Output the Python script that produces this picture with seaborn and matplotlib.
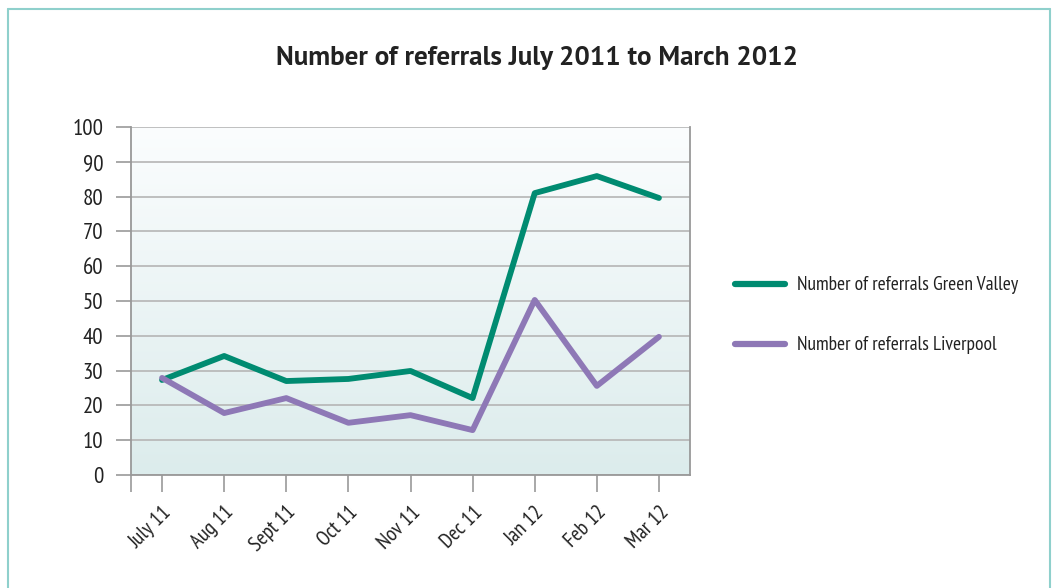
import numpy as np
import pandas as pd
import matplotlib
matplotlib.use("Agg")
import matplotlib.pyplot as plt
from matplotlib.lines import Line2D
from matplotlib.colors import LinearSegmentedColormap
import seaborn as sns

months = ["July 11", "Aug 11", "Sept 11", "Oct 11", "Nov 11", "Dec 11", "Jan 12", "Feb 12", "Mar 12"]
green_valley = [27.3, 34.2, 27.0, 27.6, 29.9, 22.1, 81.0, 85.9, 79.6]
liverpool = [27.9, 17.8, 22.1, 15.0, 17.2, 12.9, 50.3, 25.6, 39.7]
series_names = ["Number of referrals Green Valley", "Number of referrals Liverpool"]
yticks = [0, 10, 20, 30, 40, 50, 60, 70, 80, 90, 100]
title = "Number of referrals July 2011 to March 2012"

colors = ["#008b71", "#8e78b6"]

sns.set_style("white")
import matplotlib.font_manager as fm
avail = {f.name for f in fm.fontManager.ttflist}
COND = [f for f in ["PT Sans Narrow", "Roboto Condensed", "Asap Condensed", "Sofia Sans Condensed"] if f in avail][:1] + ["DejaVu Sans"]
TITLEF = [f for f in ["Myriad Pro", "PT Sans", "Open Sans"] if f in avail][:1] + ["DejaVu Sans"]
plt.rcParams["font.family"] = COND

df = pd.DataFrame({
    "month": months * 2,
    "idx": list(range(len(months))) * 2,
    "value": green_valley + liverpool,
    "series": [series_names[0]] * len(months) + [series_names[1]] * len(months),
})

W, H = 1058, 588
fig = plt.figure(figsize=(W / 100, H / 100), dpi=100)
ax = fig.add_axes([131 / W, 1 - 475 / H, (690 - 131) / W, (475 - 127) / H])

grad = np.linspace(0, 1, 256).reshape(-1, 1)
cmap = LinearSegmentedColormap.from_list("bg", ["#dcecec", "#fbfdfe"])
ax.imshow(grad, cmap=cmap, origin="lower", extent=[0, 1, 0, 1], transform=ax.transAxes,
          aspect="auto", zorder=0)

sns.lineplot(data=df, x="idx", y="value", hue="series", palette=colors, ax=ax,
             linewidth=4.2, legend=False, zorder=3)

ax.set_xlim(-0.5, len(months) - 0.5)
ax.set_ylim(0, 100)
ax.set_yticks(yticks)
ax.set_yticklabels([str(v) for v in yticks], fontsize=16.5, color="#222222")
ax.set_xticks(range(len(months)))
ax.set_xticklabels(months, rotation=45, ha="right", rotation_mode="anchor", fontsize=15, color="#222222")
ax.set_xticks([-0.5], minor=True)
ax.tick_params(axis="x", which="both", length=12, width=1.2, color="#999999", direction="out", pad=8, bottom=True)
ax.tick_params(axis="y", length=11, width=1.2, color="#999999", direction="out", pad=9, left=True)
for s in ax.spines.values():
    s.set_color("#999999")
    s.set_linewidth(1.3)
ax.spines["top"].set_visible(False)
ax.grid(axis="y", color="#b5b5b5", linewidth=1.2)
for gl in ax.get_ygridlines():
    gl.set_zorder(1)
ax.set_xlabel("")
ax.set_ylabel("")

fig.text(537 / W, 1 - 58 / H, title, ha="center", va="center", fontsize=19.5, fontweight="bold",
         color="#222222", family=TITLEF)

handles = [Line2D([0], [0], color=c, linewidth=4.5, solid_capstyle="round") for c in colors]
leg = fig.legend(handles, series_names, loc="upper left", bbox_to_anchor=(717 / W, 1 - 259 / H),
                 frameon=False, fontsize=14, handlelength=2.6, labelspacing=2.15, handletextpad=0.6)
for t in leg.get_texts():
    t.set_color("#222222")

frame_col = "#8fd0cc"
fig.add_artist(Line2D([8 / W, 8 / W], [0, 1 - 9 / H], color=frame_col, linewidth=1.5, transform=fig.transFigure))
fig.add_artist(Line2D([8 / W, 1050 / W], [1 - 9 / H, 1 - 9 / H], color=frame_col, linewidth=1.5, transform=fig.transFigure))
fig.add_artist(Line2D([1050 / W, 1050 / W], [0, 1 - 9 / H], color=frame_col, linewidth=1.5, transform=fig.transFigure))

fig.savefig("out.png", dpi=100)
